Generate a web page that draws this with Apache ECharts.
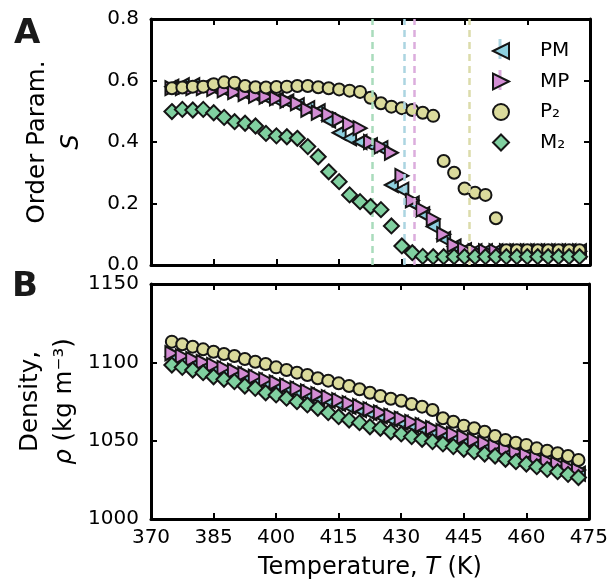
<!DOCTYPE html>
<html>
<head>
<meta charset="utf-8">
<script src="https://cdn.jsdelivr.net/npm/echarts@6/dist/echarts.min.js"></script>
<style>html,body{margin:0;padding:0;background:#fff}#c{width:611px;height:585px}</style>
</head>
<body>
<div id="c"></div>
<script>
// ---- data ----
const temps = [375,377.5,380,382.5,385,387.5,390,392.5,395,397.5,
  400,402.5,405,407.5,410,412.5,415,417.5,420,422.5,
  425,427.5,430,432.5,435,437.5,440,442.5,445,447.5,
  450,452.5,455,457.5,460,462.5,465,467.5,470,472.5];

const S_PM = [0.580,0.585,0.585,0.580,0.575,0.570,0.565,0.558,0.552,0.545,
  0.538,0.532,0.520,0.510,0.500,0.470,0.430,0.412,0.400,0.390,
  0.380,0.260,0.245,0.200,0.165,0.125,0.085,0.060,0.048,0.045,
  0.045,0.045,0.045,0.045,0.045,0.045,0.045,0.045,0.045,0.045];
const S_MP = [0.575,0.575,0.575,0.575,0.572,0.568,0.562,0.556,0.550,0.547,
  0.542,0.534,0.526,0.505,0.495,0.490,0.474,0.458,0.445,0.400,
  0.385,0.365,0.290,0.210,0.180,0.150,0.100,0.065,0.050,0.045,
  0.045,0.045,0.045,0.045,0.045,0.045,0.045,0.045,0.045,0.045];
const S_P2 = [0.575,0.577,0.580,0.580,0.588,0.594,0.593,0.582,0.578,0.577,
  0.579,0.580,0.582,0.582,0.578,0.575,0.571,0.567,0.563,0.544,
  0.526,0.515,0.510,0.504,0.495,0.485,0.338,0.300,0.249,0.235,
  0.228,0.152,0.048,0.048,0.048,0.048,0.048,0.048,0.048,0.048];
const S_M2 = [0.499,0.506,0.504,0.506,0.495,0.480,0.466,0.461,0.452,0.428,
  0.420,0.417,0.412,0.385,0.352,0.303,0.271,0.228,0.206,0.190,
  0.180,0.127,0.062,0.040,0.028,0.027,0.027,0.027,0.027,0.027,
  0.027,0.027,0.027,0.027,0.027,0.027,0.027,0.027,0.027,0.027];

const rho_PM = [1103.5,1101.6,1099.8,1097.9,1096.0,1094.1,1092.2,1090.4,1088.5,1086.6,
  1084.8,1082.9,1081.0,1079.1,1077.2,1075.4,1073.5,1071.6,1069.6,1067.6,
  1065.5,1063.5,1061.5,1059.5,1057.5,1055.6,1053.7,1051.8,1049.9,1048.0,
  1046.1,1044.2,1042.3,1040.4,1038.5,1036.6,1034.7,1032.8,1030.8,1028.9];
const rho_MP = [1105.8,1104.0,1102.1,1100.2,1098.4,1096.5,1094.6,1092.7,1090.9,1089.0,
  1087.1,1085.3,1083.4,1081.5,1079.6,1077.8,1075.9,1074.0,1072.1,1070.1,
  1068.0,1066.0,1064.1,1062.0,1060.0,1058.1,1056.2,1054.3,1052.4,1050.5,
  1048.6,1046.7,1044.8,1042.9,1041.0,1039.1,1037.1,1035.2,1033.2,1031.3];
const rho_P2 = [1113.2,1111.5,1110.0,1108.3,1106.8,1105.3,1104.0,1102.1,1100.4,1098.9,
  1096.8,1095.1,1093.4,1091.9,1089.8,1088.3,1086.6,1084.9,1082.8,1080.6,
  1078.5,1076.8,1075.5,1073.4,1071.7,1069.6,1064.3,1062.1,1059.6,1057.9,
  1055.7,1053.0,1050.4,1048.7,1047.3,1045.1,1043.6,1042.0,1040.2,1037.7];
const rho_M2 = [1098.3,1096.8,1095.1,1093.4,1090.8,1089.2,1087.7,1084.9,1083.4,1080.6,
  1079.2,1077.1,1074.9,1072.8,1070.7,1067.9,1065.3,1063.2,1061.5,1058.9,
  1057.9,1055.7,1054.3,1052.6,1050.9,1049.4,1047.9,1046.2,1044.5,1043.0,
  1041.5,1040.2,1038.1,1036.6,1035.1,1033.4,1031.7,1030.2,1028.5,1026.5];

const transitionT = [423, 430.5, 433, 446];
const transitionColors = ['#a9dcbc', '#acd5e1', '#dcaddd', '#dcdcab'];

const seriesNames = ['PM', 'MP', 'P\u2082', 'M\u2082'];
const xTicks = {min: 370, max: 475, interval: 15};
const sTicks = {min: 0, max: 0.8, interval: 0.2};
const rhoTicks = {min: 1000, max: 1150, interval: 50};

// ---- styles ----
const FONT = 'DejaVu Sans';
const colors = ['#8dd0df', '#d38dd4', '#dbdb9c', '#80d0a0'];
const symbols = [
  'path://M0,5 L10,0 L10,10 Z',
  'path://M10,5 L0,0 L0,10 Z',
  'circle',
  'diamond'
];
const sizes = [[13,14],[13,14],12,[15,15]];

const pair = (xs, ys) => xs.map((x, i) => [x, ys[i]]);

function mkAxisX(gi, pos, showLabel) {
  return Object.assign({
    type: 'value', gridIndex: gi, position: pos,
    axisLine: {show: true, onZero: false, lineStyle: {color: '#000', width: 3}},
    axisTick: {show: true, inside: true, length: 6, lineStyle: {color: '#000', width: 2}},
    axisLabel: {show: showLabel, color: '#000', fontFamily: FONT, fontSize: 20, margin: 9},
    splitLine: {show: false}
  }, xTicks);
}
function mkAxisY(gi, pos, showLabel, ticks, fmt) {
  return Object.assign({
    type: 'value', gridIndex: gi, position: pos,
    axisLine: {show: true, onZero: false, lineStyle: {color: '#000', width: 3}},
    axisTick: {show: true, inside: true, length: 6, lineStyle: {color: '#000', width: 2}},
    axisLabel: {show: showLabel, color: '#000', fontFamily: FONT, fontSize: 20, margin: 12, formatter: fmt},
    splitLine: {show: false}
  }, ticks);
}

const xAxes = [mkAxisX(0,'bottom',false), mkAxisX(0,'top',false), mkAxisX(1,'bottom',true), mkAxisX(1,'top',false)];
xAxes[2].name = '{n|Temperature, }{i|T}{n| (K)}';
xAxes[2].nameLocation = 'middle';
xAxes[2].nameGap = 37;
xAxes[2].nameTextStyle = {rich: {n: {fontFamily: FONT, fontSize: 24, color: '#000'}, i: {fontFamily: FONT, fontSize: 24, fontStyle: 'italic', color: '#000'}}};

const yAxes = [
  mkAxisY(0,'left',true,sTicks,v => v.toFixed(1)),
  mkAxisY(0,'right',false,sTicks),
  mkAxisY(1,'left',true,rhoTicks,v => String(v)),
  mkAxisY(1,'right',false,rhoTicks)
];
const richY = {
  n: {fontFamily: FONT, fontSize: 24.5, color: '#000', lineHeight: 34},
  i: {fontFamily: FONT, fontSize: 24.5, fontStyle: 'italic', color: '#000', lineHeight: 34}
};
yAxes[0].name = '{n|Order Param.}\n{i|S}';
yAxes[0].nameLocation = 'middle';
yAxes[0].nameRotate = 90;
yAxes[0].nameGap = 62;
yAxes[0].nameTextStyle = {rich: richY, align: 'center'};
yAxes[2].name = '{n|Density,}\n{i|\u03c1}{n| (kg m\u207b\u00b3)}';
yAxes[2].nameLocation = 'middle';
yAxes[2].nameRotate = 90;
yAxes[2].nameGap = 62;
yAxes[2].nameTextStyle = {rich: richY, align: 'center'};

const series = [];
// transition lines (behind markers)
series.push({
  type: 'line', xAxisIndex: 0, yAxisIndex: 0, data: [], z: 1, silent: true,
  markLine: {
    silent: true, symbol: ['none','none'], label: {show: false}, animation: false,
    data: transitionT.map((t, i) => ({xAxis: t, lineStyle: {color: transitionColors[i], type: [7,5], width: 2.5, opacity: 1}}))
  }
});
const Sdata = [S_PM, S_MP, S_P2, S_M2];
const Rdata = [rho_PM, rho_MP, rho_P2, rho_M2];
for (let k = 0; k < 4; k++) {
  const common = {
    name: seriesNames[k], type: 'scatter', symbol: symbols[k], symbolSize: sizes[k],
    itemStyle: {color: colors[k], borderColor: '#151515', borderWidth: 2, opacity: 1},
    z: 2 + k, silent: true, animation: false
  };
  series.push(Object.assign({}, common, {xAxisIndex: 0, yAxisIndex: 0, data: pair(temps, Sdata[k])}));
  series.push(Object.assign({}, common, {xAxisIndex: 2, yAxisIndex: 2, data: pair(temps, Rdata[k])}));
}

const chart = echarts.init(document.getElementById('c'), null, {renderer: 'canvas'});
chart.setOption({
  animation: false,
  backgroundColor: '#fff',
  grid: [
    {left: 151, width: 439, top: 19, height: 246},
    {left: 151, width: 439, top: 284, height: 235}
  ],
  xAxis: xAxes,
  yAxis: yAxes,
  legend: {
    data: seriesNames, orient: 'vertical', left: 487, top: 36, padding: 5,
    itemWidth: 16, itemHeight: 16, itemGap: 10.5,
    textStyle: {fontFamily: FONT, fontSize: 20, color: '#000', padding: [0,0,0,26]}
  },
  graphic: [
    {type: 'rect', z: 0, shape: {x: 498.5, y: 39, width: 3, height: 20}, style: {fill: transitionColors[1]}},
    {type: 'rect', z: 0, shape: {x: 498.5, y: 70, width: 3, height: 20}, style: {fill: transitionColors[2]}},
    {type: 'text', left: 14, top: 17, style: {text: 'A', font: 'bold 34px "DejaVu Sans"', fill: '#1a1a1a'}},
    {type: 'text', left: 12, top: 270, style: {text: 'B', font: 'bold 34px "DejaVu Sans"', fill: '#1a1a1a'}}
  ],
  series: series
});
</script>
</body>
</html>
